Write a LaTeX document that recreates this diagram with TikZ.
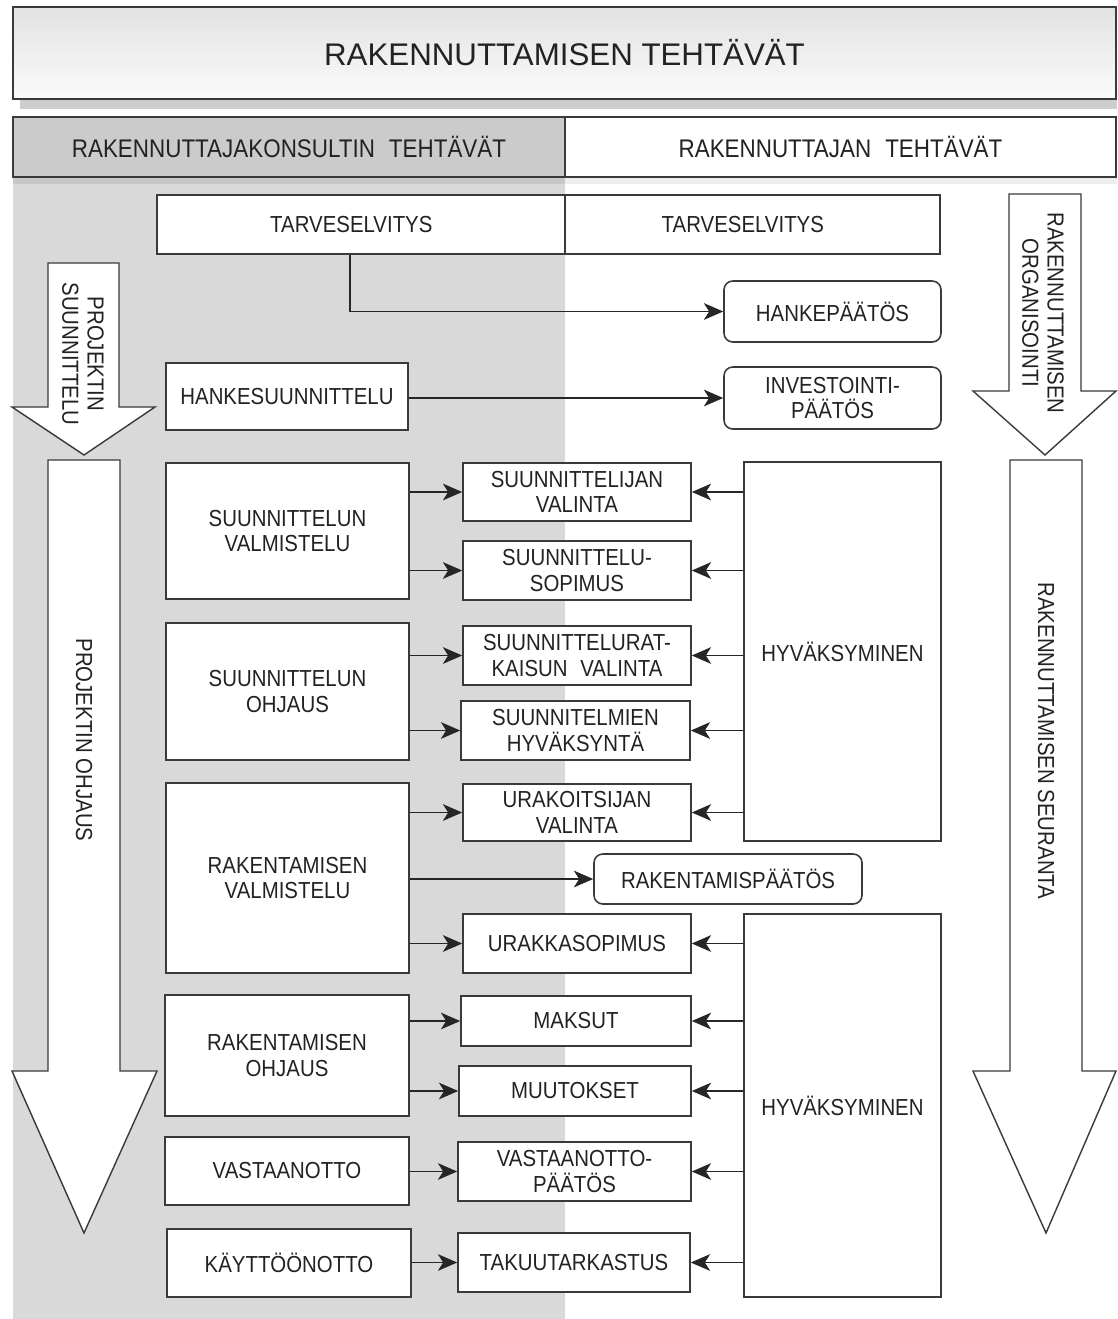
\documentclass[tikz,border=0pt]{standalone}
\usepackage{fontspec}
\setmainfont{Liberation Sans}[FakeStretch=0.88]
\newfontfamily\titlefnt{Liberation Sans}
\usetikzlibrary{arrows.meta,calc}
\definecolor{lc}{HTML}{3A3A3A}
\definecolor{txt}{HTML}{222222}
\definecolor{colgray}{HTML}{D9D9D9}
\definecolor{hdrgray}{HTML}{CBCBCB}
\definecolor{shd}{HTML}{CDCDCD}
\definecolor{shdlight}{HTML}{EEEEEE}
\definecolor{ttop}{HTML}{E2E2E2}
\definecolor{tbot}{HTML}{FBFBFB}
\newcommand\myBody{\fontsize{13.2}{14.4}\selectfont}
\newcommand\myHead{\fontsize{14.5}{16}\selectfont}
\newcommand\myTitle{\titlefnt\fontsize{17.8}{20}\selectfont}
% #1 style, #2 name, #3 x1, #4 y1, #5 x2, #6 y2 (pixels), #7 text
\newcommand\mkbox[7]{\node[#1, minimum width={(#5-#3)*0.02cm}, minimum height={(#6-#4)*0.02cm}] (#2) at ({(#3+#5)/2},{(#4+#6)/2}) {#7};}
\begin{document}
\begin{tikzpicture}[x=0.02cm,y=-0.02cm,
  box/.style={draw=lc, line width=0.9pt, fill=white, inner sep=0pt, align=center, font=\myBody, text=txt},
  rbox/.style={box, rounded corners=5pt},
  hdr/.style={draw=lc, line width=0.9pt, inner sep=0pt, font=\myHead, text=txt},
  conn/.style={draw=black!85, line width=0.9pt, -{Stealth[length=11pt,width=9.5pt,inset=3pt]}},
  bigarrow/.style={draw=lc, line width=0.8pt, fill=white},
  vlabel/.style={rotate=-90, align=center, font=\myBody, text=txt, inner sep=0pt}]
\useasboundingbox (0,0) rectangle (1117,1319);
\fill[white] (0,0) rectangle (1117,1319);

% backgrounds and shadows
\fill[colgray] (13,176) rectangle (565,1319);
\fill[shd] (20,99) rectangle (1117,109);
\fill[shdlight] (565,177) rectangle (1117,184);
\fill[black!22] (13,177) rectangle (565,184);

% title and headers
\mkbox{draw=lc, line width=0.9pt, inner sep=0pt, top color=ttop, bottom color=tbot, font=\myTitle, text=txt}{title}{13}{7}{1116}{99}{RAKENNUTTAMISEN TEHTÄVÄT}
\mkbox{hdr, fill=hdrgray}{hk}{13}{117}{565}{177}{RAKENNUTTAJAKONSULTIN\hspace{0.55em}TEHTÄVÄT}
\mkbox{hdr, fill=white}{hr}{565}{117}{1116}{177}{RAKENNUTTAJAN\hspace{0.55em}TEHTÄVÄT}

% big arrows
\draw[bigarrow] (48,263) -- (119,263) -- (119,407) -- (155,407) -- (84,455) -- (12,407) -- (48,407) -- cycle;
\draw[bigarrow] (48,460) -- (120,460) -- (120,1071) -- (157,1071) -- (84,1233) -- (12,1071) -- (48,1071) -- cycle;
\draw[bigarrow] (1009,194) -- (1081,194) -- (1081,391) -- (1116,391) -- (1045,455) -- (973,391) -- (1009,391) -- cycle;
\draw[bigarrow] (1010,460) -- (1082,460) -- (1082,1071) -- (1116,1071) -- (1046,1233) -- (973,1071) -- (1010,1071) -- cycle;
\node[vlabel] (ps) at (83,354) {PROJEKTIN\\SUUNNITTELU};
\node[vlabel] (po) at (84,740) {PROJEKTIN OHJAUS};
\node[vlabel] (ro2) at (1043,313) {RAKENNUTTAMISEN\\ORGANISOINTI};
\node[vlabel] (rs) at (1046,741) {RAKENNUTTAMISEN SEURANTA};

% top row
\mkbox{box}{tarvL}{157}{195}{565}{254}{TARVESELVITYS\hspace*{11pt}}
\mkbox{box}{tarvR}{565}{195}{940}{254}{TARVESELVITYS\hspace*{11pt}}
\mkbox{rbox}{hp}{724}{281}{941}{342}{HANKEPÄÄTÖS}
\mkbox{rbox}{ip}{724}{367}{941}{429}{INVESTOINTI-\\PÄÄTÖS}
\mkbox{box}{hs}{166}{363}{408}{430}{HANKESUUNNITTELU}

% left column
\mkbox{box}{svm}{166}{463}{409}{599}{SUUNNITTELUN\\VALMISTELU}
\mkbox{box}{so}{166}{623}{409}{760}{SUUNNITTELUN\\OHJAUS}
\mkbox{box}{rv}{166}{783}{409}{973}{RAKENTAMISEN\\VALMISTELU}
\mkbox{box}{ro}{165}{995}{409}{1116}{RAKENTAMISEN\\OHJAUS}
\mkbox{box}{vo}{165}{1137}{409}{1205}{VASTAANOTTO}
\mkbox{box}{ko}{167}{1229}{411}{1297}{KÄYTTÖÖNOTTO}

% middle column
\mkbox{box}{sv}{463}{463}{691}{521}{SUUNNITTELIJAN\\VALINTA}
\mkbox{box}{ss}{463}{541}{691}{600}{SUUNNITTELU-\\SOPIMUS}
\mkbox{box}{sr}{463}{626}{691}{685}{SUUNNITTELURAT-\\KAISUN\hspace{0.55em}VALINTA}
\mkbox{box}{sh}{461}{701}{690}{760}{SUUNNITELMIEN\\HYVÄKSYNTÄ}
\mkbox{box}{uv}{463}{784}{691}{841}{URAKOITSIJAN\\VALINTA}
\mkbox{rbox}{rp}{594}{854}{862}{904}{RAKENTAMISPÄÄTÖS}
\mkbox{box}{us}{463}{914}{691}{973}{URAKKASOPIMUS}
\mkbox{box}{mk}{461}{996}{691}{1046}{MAKSUT}
\mkbox{box}{mu}{459}{1066}{691}{1116}{MUUTOKSET}
\mkbox{box}{vp}{458}{1142}{691}{1201}{VASTAANOTTO-\\PÄÄTÖS}
\mkbox{box}{tt}{458}{1233}{690}{1292}{TAKUUTARKASTUS}

% right column
\mkbox{box}{hy1}{744}{462}{941}{841}{HYVÄKSYMINEN}
\mkbox{box}{hy2}{744}{914}{941}{1297}{HYVÄKSYMINEN}

% connectors
\draw[conn] ($(tarvL.south)+(-11,0)$) |- (hp.west);
\draw[conn] (hs.east |- ip.west) -- (ip.west);

\draw[conn] (svm.east |- sv.west) -- (sv.west);
\draw[conn] (svm.east |- ss.west) -- (ss.west);
\draw[conn] (so.east |- sr.west) -- (sr.west);
\draw[conn] (so.east |- sh.west) -- (sh.west);
\draw[conn] (rv.east |- uv.west) -- (uv.west);
\draw[conn] (rv.east |- rp.west) -- (rp.west);
\draw[conn] (rv.east |- us.west) -- (us.west);
\draw[conn] (ro.east |- mk.west) -- (mk.west);
\draw[conn] (ro.east |- mu.west) -- (mu.west);
\draw[conn] (vo.east |- vp.west) -- (vp.west);
\draw[conn] (ko.east |- tt.west) -- (tt.west);

\draw[conn] (hy1.west |- sv.east) -- (sv.east);
\draw[conn] (hy1.west |- ss.east) -- (ss.east);
\draw[conn] (hy1.west |- sr.east) -- (sr.east);
\draw[conn] (hy1.west |- sh.east) -- (sh.east);
\draw[conn] (hy1.west |- uv.east) -- (uv.east);
\draw[conn] (hy2.west |- us.east) -- (us.east);
\draw[conn] (hy2.west |- mk.east) -- (mk.east);
\draw[conn] (hy2.west |- mu.east) -- (mu.east);
\draw[conn] (hy2.west |- vp.east) -- (vp.east);
\draw[conn] (hy2.west |- tt.east) -- (tt.east);
\end{tikzpicture}
\end{document}
